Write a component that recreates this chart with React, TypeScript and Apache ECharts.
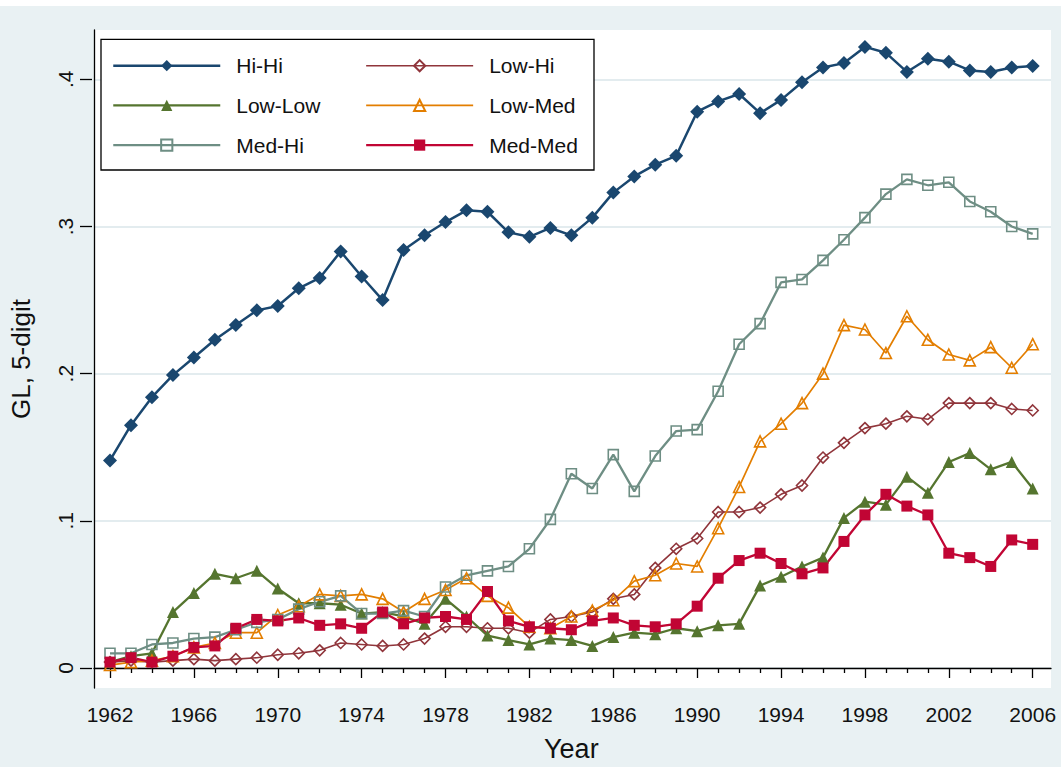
import React, { useEffect, useRef } from 'react';
import * as echarts from 'echarts';

const years = [
  1962, 1963, 1964, 1965, 1966, 1967, 1968, 1969, 1970,
  1971, 1972, 1973, 1974, 1975, 1976, 1977, 1978, 1979, 1980,
  1981, 1982, 1983, 1984, 1985, 1986, 1987, 1988, 1989, 1990,
  1991, 1992, 1993, 1994, 1995, 1996, 1997, 1998, 1999, 2000,
  2001, 2002, 2003, 2004, 2005, 2006,
];

const hiHi = [
  0.141, 0.165, 0.184, 0.199, 0.211, 0.223, 0.233, 0.243, 0.246,
  0.258, 0.265, 0.283, 0.266, 0.250, 0.284, 0.294, 0.303, 0.311, 0.310,
  0.296, 0.293, 0.299, 0.294, 0.306, 0.323, 0.334, 0.342, 0.348, 0.378,
  0.385, 0.390, 0.377, 0.386, 0.398, 0.408, 0.411, 0.422, 0.418, 0.405,
  0.414, 0.412, 0.406, 0.405, 0.408, 0.409,
];
const lowHi = [
  0.004, 0.005, 0.004, 0.005, 0.006, 0.005, 0.006, 0.007, 0.009,
  0.010, 0.012, 0.017, 0.016, 0.015, 0.016, 0.020, 0.028, 0.028, 0.027,
  0.027, 0.024, 0.033, 0.035, 0.038, 0.047, 0.050, 0.068, 0.081, 0.088,
  0.106, 0.106, 0.109, 0.118, 0.124, 0.143, 0.153, 0.163, 0.166, 0.171,
  0.169, 0.180, 0.180, 0.180, 0.176, 0.175,
];
const lowLow = [
  0.004, 0.008, 0.010, 0.038, 0.051, 0.064, 0.061, 0.066, 0.054,
  0.044, 0.044, 0.043, 0.037, 0.038, 0.035, 0.030, 0.047, 0.035, 0.022,
  0.019, 0.016, 0.020, 0.019, 0.015, 0.021, 0.024, 0.023, 0.027, 0.025,
  0.029, 0.030, 0.056, 0.062, 0.069, 0.075, 0.102, 0.113, 0.111, 0.130,
  0.119, 0.140, 0.146, 0.135, 0.140, 0.122,
];
const lowMed = [
  0.002, 0.004, 0.005, 0.008, 0.014, 0.017, 0.024, 0.024, 0.036,
  0.042, 0.050, 0.049, 0.050, 0.047, 0.038, 0.047, 0.053, 0.061, 0.049,
  0.041, 0.028, 0.027, 0.035, 0.039, 0.046, 0.059, 0.063, 0.071, 0.069,
  0.095, 0.123, 0.154, 0.166, 0.180, 0.200, 0.233, 0.230, 0.214, 0.239,
  0.223, 0.213, 0.209, 0.218, 0.204, 0.220,
];
const medHi = [
  0.010, 0.010, 0.016, 0.017, 0.020, 0.021, 0.026, 0.031, 0.033,
  0.040, 0.045, 0.049, 0.037, 0.037, 0.039, 0.035, 0.055, 0.063, 0.066,
  0.069, 0.081, 0.101, 0.132, 0.122, 0.145, 0.120, 0.144, 0.161, 0.162,
  0.188, 0.220, 0.234, 0.262, 0.264, 0.277, 0.291, 0.306, 0.322, 0.332,
  0.328, 0.330, 0.317, 0.310, 0.300, 0.295,
];
const medMed = [
  0.004, 0.007, 0.004, 0.008, 0.014, 0.015, 0.027, 0.033, 0.032,
  0.034, 0.029, 0.030, 0.027, 0.038, 0.030, 0.034, 0.035, 0.033, 0.052,
  0.032, 0.028, 0.027, 0.026, 0.032, 0.034, 0.029, 0.028, 0.030, 0.042,
  0.061, 0.073, 0.078, 0.071, 0.064, 0.068, 0.086, 0.104, 0.118, 0.110,
  0.104, 0.078, 0.075, 0.069, 0.087, 0.084,
];

const yTicks = [0, 0.1, 0.2, 0.3, 0.4];
const yTickLabels = ['0', '.1', '.2', '.3', '.4'];
const legendLeftCol = ['Hi-Hi', 'Low-Low', 'Med-Hi'];
const legendRightCol = ['Low-Hi', 'Low-Med', 'Med-Med'];

const FONT = "'Liberation Sans', Arial, Helvetica, sans-serif";
const TEXT = '#111';

const seriesDefs = [
  { name: 'Hi-Hi', data: hiHi, color: '#1a476f', symbol: 'diamond', size: 14, width: 2.5, hollow: false },
  { name: 'Low-Hi', data: lowHi, color: '#90353b', symbol: 'diamond', size: 11, width: 1.6, hollow: true },
  { name: 'Low-Low', data: lowLow, color: '#55752f', symbol: 'triangle', size: 12, width: 2.3, hollow: false },
  { name: 'Low-Med', data: lowMed, color: '#e37e00', symbol: 'triangle', size: 11, width: 1.7, hollow: true },
  { name: 'Med-Hi', data: medHi, color: '#6e8e84', symbol: 'rect', size: 10, width: 2.3, hollow: true },
  { name: 'Med-Med', data: medMed, color: '#c10534', symbol: 'rect', size: 11, width: 2.3, hollow: false },
];

// frame y-range chosen so the frame axis grid lines fall on the data axis ticks
const FRAME_YMIN = -0.013589;
const FRAME_YMAX = 0.4335;

export default function App() {
  const ref = useRef<HTMLDivElement>(null);

  useEffect(() => {
    if (!ref.current) return;
    const chart = echarts.init(ref.current, null, { renderer: 'svg' });

    const legendCommon = {
      orient: 'vertical',
      padding: 0,
      itemWidth: 107,
      itemHeight: 14,
      itemGap: 13.7,
      selectedMode: false,
      z: 6,
      lineStyle: { width: 'inherit' },
      textStyle: {
        fontFamily: FONT,
        fontSize: 21,
        lineHeight: 26,
        color: TEXT,
        padding: [0, 0, 0, 11],
      },
    };

    const option: any = {
      animation: false,
      backgroundColor: '#e9f1f3',
      textStyle: { fontFamily: FONT },
      graphic: [
        { type: 'rect', z: 0, shape: { x: 0, y: 0, width: 1061, height: 6 }, style: { fill: '#ffffff' } },
        {
          type: 'rect',
          z: 5,
          shape: { x: 101, y: 39.3, width: 493, height: 130.7 },
          style: { fill: '#ffffff', stroke: '#000', lineWidth: 1.3 },
        },
      ],
      legend: [
        { ...legendCommon, data: legendLeftCol, left: 112, top: 52.7 },
        { ...legendCommon, data: legendRightCol, left: 365, top: 52.7 },
      ],
      grid: [
        { left: 92, top: 30, right: 10, bottom: 79, show: true, backgroundColor: '#ffffff', borderWidth: 0 },
        { left: 110, top: 79.3, right: 28.3, bottom: 99, show: false },
      ],
      xAxis: [
        {
          type: 'value',
          gridIndex: 0,
          min: 0,
          max: 1,
          axisLine: { show: true, lineStyle: { color: '#000', width: 1.3 } },
          axisTick: { show: false },
          axisLabel: { show: false },
          splitLine: { show: false },
        },
        {
          type: 'value',
          gridIndex: 1,
          min: years[0],
          max: years[years.length - 1],
          interval: 4,
          offset: 20,
          axisLine: { show: false },
          axisTick: { show: true, length: 10, lineStyle: { color: '#000', width: 1.3 } },
          minorTick: { show: true, splitNumber: 4, length: 5, lineStyle: { color: '#000', width: 1.3 } },
          axisLabel: {
            fontFamily: FONT,
            fontSize: 21,
            color: TEXT,
            margin: 16,
            formatter: (v: number) => String(v),
          },
          splitLine: { show: false },
          minorSplitLine: { show: false },
          name: 'Year',
          nameLocation: 'middle',
          nameGap: 47,
          nameTextStyle: { fontFamily: FONT, fontSize: 27, color: TEXT },
        },
      ],
      yAxis: [
        {
          type: 'value',
          gridIndex: 0,
          min: FRAME_YMIN,
          max: FRAME_YMAX,
          axisLine: { show: true, lineStyle: { color: '#000', width: 1.3 } },
          axisTick: { show: false },
          axisLabel: { show: false },
          splitLine: {
            show: true,
            showMinLine: false,
            showMaxLine: false,
            lineStyle: { color: '#e3ecef', width: 2 },
          },
          name: 'GL, 5-digit',
          nameLocation: 'middle',
          nameRotate: 90,
          nameGap: 60,
          nameTextStyle: { fontFamily: FONT, fontSize: 26, color: TEXT },
        },
        {
          type: 'value',
          gridIndex: 1,
          min: yTicks[0],
          max: yTicks[yTicks.length - 1],
          interval: 0.1,
          offset: 18,
          axisLine: { show: false },
          axisTick: { show: true, length: 12, lineStyle: { color: '#000', width: 1.3 } },
          axisLabel: {
            fontFamily: FONT,
            fontSize: 21,
            color: TEXT,
            rotate: 90,
            margin: 16,
            formatter: (v: number) => {
              const i = yTicks.findIndex((t) => Math.abs(t - v) < 1e-9);
              return i >= 0 ? yTickLabels[i] : '';
            },
          },
          splitLine: { show: false },
        },
      ],
      series: seriesDefs.map((s) => ({
        name: s.name,
        type: 'line',
        xAxisIndex: 1,
        yAxisIndex: 1,
        clip: false,
        color: s.color,
        symbol: s.symbol,
        symbolSize: s.size,
        showAllSymbol: true,
        lineStyle: { color: s.color, width: s.width },
        itemStyle: s.hollow
          ? { color: 'rgba(255,255,255,0)', borderColor: s.color, borderWidth: 1.6 }
          : { color: s.color, borderWidth: 0 },
        emphasis: { disabled: true },
        data: years.map((y, i) => [y, s.data[i]]),
      })),
    };

    chart.setOption(option);
    return () => chart.dispose();
  }, []);

  return (
    <div
      ref={ref}
      style={{ position: 'fixed', left: 0, top: 0, width: 1061, height: 767 }}
    />
  );
}
